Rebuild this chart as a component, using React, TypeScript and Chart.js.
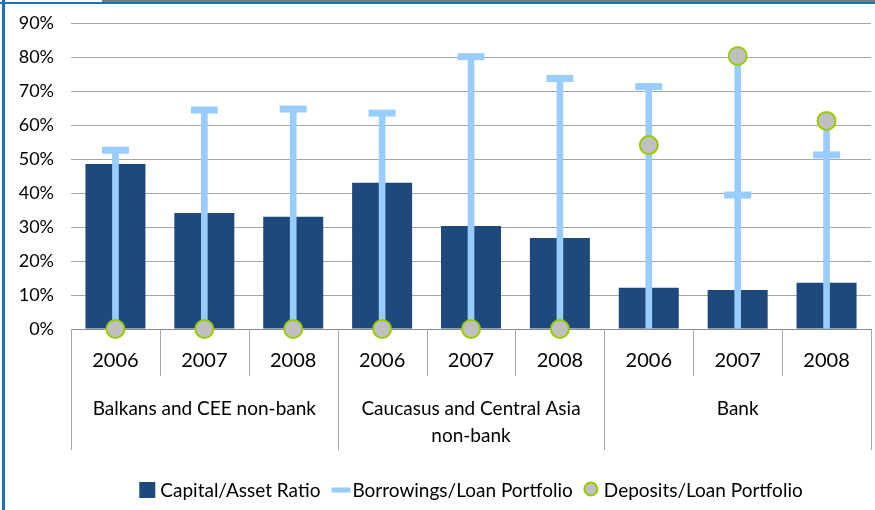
import React, { useEffect, useRef } from "react";
import { Chart, registerables } from "chart.js";

Chart.register(...registerables);

const years = ["2006", "2007", "2008", "2006", "2007", "2008", "2006", "2007", "2008"];
const groupLabels = [["Balkans and CEE non-bank"], ["Caucasus and Central Asia", "non-bank"], ["Bank"]];
const groupSize = 3;
const capitalAsset = [48.5, 34.1, 33.0, 43.0, 30.3, 26.8, 12.1, 11.5, 13.6];
const borrowingsLoan = [52.6, 64.4, 64.7, 63.5, 80.1, 73.7, 71.3, 39.4, 51.2];
const depositsLoan = [0, 0, 0, 0, 0, 0, 54.1, 80.3, 61.2];
const yTicks = [0, 10, 20, 30, 40, 50, 60, 70, 80, 90];

const FONT = "Lato, 'Open Sans', sans-serif";
const BAR = "#1F497D";
const LIGHT = "#99CCFF";
const DEP_FILL = "#C0C0C0";
const DEP_EDGE = "#99CC00";
const GRID = "#A6A6A6";

const labelsPlugin = {
  id: "multiLevelAxisAndLegend",
  afterDraw(chart: any) {
    const { ctx, chartArea } = chart;
    const xs = chart.scales.x;
    const bottom = chartArea.bottom;
    ctx.save();
    // separators
    ctx.strokeStyle = GRID;
    ctx.lineWidth = 1;
    const n = years.length;
    for (let i = 0; i <= n; i++) {
      let x: number;
      if (i === 0) x = chartArea.left;
      else if (i === n) x = chartArea.right;
      else x = (xs.getPixelForValue(i - 1) + xs.getPixelForValue(i)) / 2;
      const isGroup = i % groupSize === 0;
      const y2 = isGroup ? bottom + 121 : bottom + 47;
      const px = Math.round(x) + 0.5;
      ctx.beginPath();
      ctx.moveTo(px, bottom);
      ctx.lineTo(px, y2);
      ctx.stroke();
    }
    // year labels
    ctx.fillStyle = "#000";
    ctx.font = `20px ${FONT}`;
    ctx.textAlign = "center";
    ctx.textBaseline = "alphabetic";
    years.forEach((y, i) => {
      ctx.fillText(y, xs.getPixelForValue(i), bottom + 38);
    });
    // group labels
    ctx.font = `19px ${FONT}`;
    groupLabels.forEach((lines, g) => {
      const x0 = xs.getPixelForValue(g * groupSize);
      const x1 = xs.getPixelForValue(g * groupSize + groupSize - 1);
      const cx = (x0 + x1) / 2;
      lines.forEach((line, li) => {
        ctx.fillText(line, cx, bottom + 86 + li * 27);
      });
    });
    // legend
    const items = [
      { text: "Capital/Asset Ratio", sym: "box", w: 16, gap: 5 },
      { text: "Borrowings/Loan Portfolio", sym: "line", w: 19, gap: 2 },
      { text: "Deposits/Loan Portfolio", sym: "circle", w: 14, gap: 6 },
    ];
    const between = 11;
    let total = 0;
    const widths = items.map((it) => ctx.measureText(it.text).width);
    items.forEach((it, i) => {
      total += it.w + it.gap + widths[i];
    });
    total += between * (items.length - 1);
    let x = (chartArea.left + chartArea.right) / 2 - total / 2;
    const base = 497;
    const cy = 490;
    ctx.textAlign = "left";
    items.forEach((it, i) => {
      if (it.sym === "box") {
        ctx.fillStyle = BAR;
        ctx.fillRect(x, cy - 8, 16, 16);
      } else if (it.sym === "line") {
        ctx.fillStyle = LIGHT;
        ctx.fillRect(x, cy - 2.5, 19, 5);
      } else {
        ctx.beginPath();
        ctx.arc(x + 7, cy - 1, 6.5, 0, Math.PI * 2);
        ctx.fillStyle = DEP_FILL;
        ctx.fill();
        ctx.strokeStyle = DEP_EDGE;
        ctx.lineWidth = 2;
        ctx.stroke();
      }
      x += it.w + it.gap;
      ctx.fillStyle = "#000";
      ctx.fillText(it.text, x, base);
      x += widths[i] + between;
    });
    ctx.restore();
  },
};

export default function App() {
  const ref = useRef<HTMLCanvasElement | null>(null);
  useEffect(() => {
    if (!ref.current) return;
    const highLow = borrowingsLoan.map((b, i) => [0, Math.max(b, depositsLoan[i])]);
    const chart = new Chart(ref.current, {
      type: "bar",
      data: {
        labels: years,
        datasets: [
          {
            type: "line",
            label: "Deposits/Loan Portfolio",
            data: depositsLoan,
            showLine: false,
            pointStyle: "circle",
            pointRadius: 9,
            pointBackgroundColor: DEP_FILL,
            pointBorderColor: DEP_EDGE,
            pointBorderWidth: 2,
            clip: false,
            order: 0,
          } as any,
          {
            type: "line",
            label: "Borrowings/Loan Portfolio",
            data: borrowingsLoan,
            showLine: false,
            pointStyle: "line",
            pointRadius: 13.5,
            pointBorderColor: LIGHT,
            pointBackgroundColor: LIGHT,
            pointBorderWidth: 7,
            clip: false,
            order: 1,
          } as any,
          {
            type: "bar",
            label: "High-Low",
            data: highLow as any,
            backgroundColor: LIGHT,
            barThickness: 6,
            grouped: false,
            order: 2,
          } as any,
          {
            type: "bar",
            label: "Capital/Asset Ratio",
            data: capitalAsset,
            backgroundColor: BAR,
            categoryPercentage: 1,
            barPercentage: 0.675,
            grouped: false,
            order: 3,
          } as any,
        ],
      },
      options: {
        responsive: false,
        animation: false,
        devicePixelRatio: 1,
        layout: { autoPadding: false, padding: { left: 0, right: 4, top: 23, bottom: 0 } },
        plugins: { legend: { display: false }, tooltip: { enabled: false } },
        scales: {
          x: {
            offset: true,
            grid: { display: false, drawTicks: false },
            border: { display: true, color: "#8C8C8C", width: 1 },
            ticks: { display: false },
            afterFit(scale: any) {
              scale.height = 181;
              scale.paddingLeft = 0;
              scale.paddingRight = 0;
            },
          },
          y: {
            min: 0,
            max: 90,
            afterBuildTicks(scale: any) {
              scale.ticks = yTicks.map((v) => ({ value: v }));
            },
            grid: { color: GRID, drawTicks: false, lineWidth: 1 },
            border: { display: false },
            ticks: {
              padding: 17,
              color: "#000",
              font: { family: FONT, size: 18 },
              callback: (v: any) => `${v}%`,
            },
            afterFit(scale: any) {
              scale.width = 71;
              scale.paddingTop = 0;
              scale.paddingBottom = 0;
            },
          },
        },
      },
      plugins: [labelsPlugin],
    });
    return () => chart.destroy();
  }, []);
  return (
    <div style={{ position: "absolute", left: 0, top: 0, width: 875, height: 510, background: "#fff", overflow: "hidden" }}>
      <canvas ref={ref} width={875} height={510} style={{ display: "block" }} />
      <div style={{ position: "absolute", left: 102, top: 0, width: 773, height: 2, background: "#6F8070" }} />
      <div style={{ position: "absolute", left: 0, top: 2, width: 875, height: 2, background: "#1E70BA" }} />
      <div style={{ position: "absolute", left: 2, top: 0, width: 3, height: 510, background: "#1E70BA" }} />
    </div>
  );
}
